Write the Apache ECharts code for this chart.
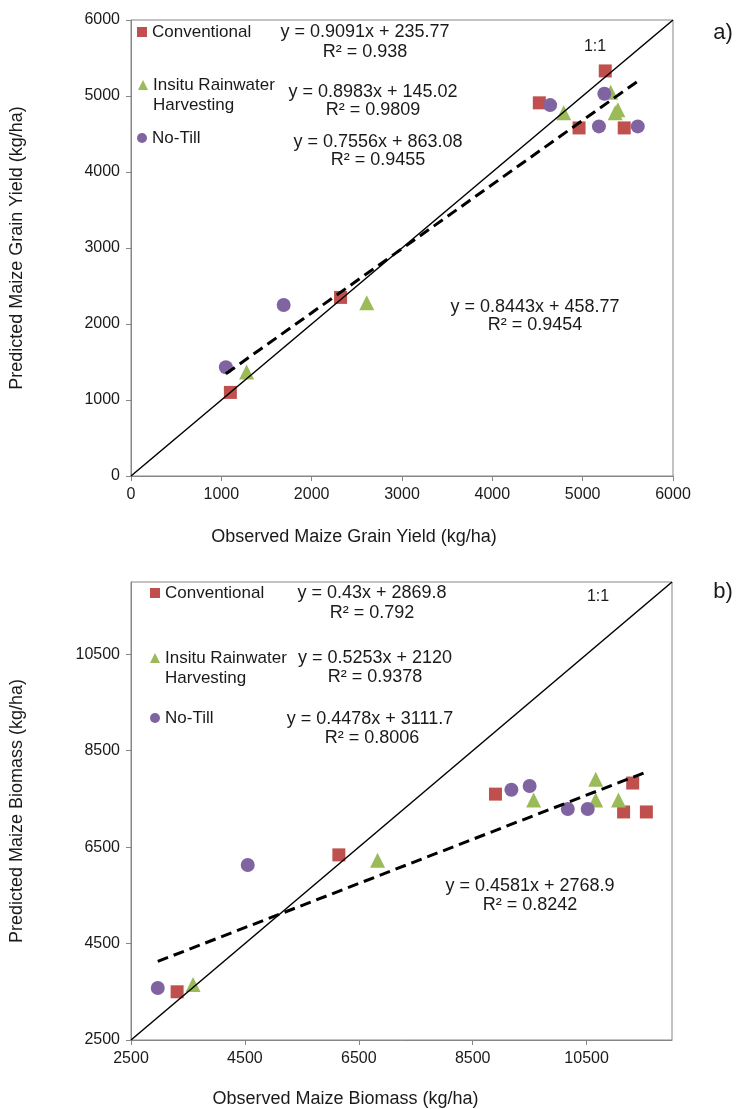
<!DOCTYPE html>
<html><head><meta charset="utf-8">
<script src="https://cdn.jsdelivr.net/npm/echarts@6/dist/echarts.min.js"></script>
<style>html,body{margin:0;padding:0;background:#fff}#c{width:738px;height:1109px}</style>
</head><body><div id="c"></div>
<script>
// ---------- DATA ----------
const seriesNames = ['Conventional', 'Insitu Rainwater Harvesting', 'No-Till'];

// a) grain yield (kg/ha): observed (x) / predicted (y)
const convObsA = [1100, 2320, 4520, 4960, 5250, 5460];
const convPredA = [1100, 2350, 4910, 4580, 5330, 4580];
const irhObsA = [1280, 2610, 4790, 5310, 5360, 5390];
const irhPredA = [1370, 2280, 4780, 5050, 4780, 4820];
const ntObsA = [1050, 1690, 4640, 5180, 5240, 5610];
const ntPredA = [1430, 2250, 4880, 4600, 5030, 4600];
const oneToOneA = [[0, 0], [6000, 6000]];
const trendA = [[1050, 1345], [5610, 5195]];
const ticksA = [0, 1000, 2000, 3000, 4000, 5000, 6000];

// b) biomass (kg/ha)
const convObsB = [3310, 6150, 8900, 11150, 11310, 11550];
const convPredB = [3500, 6340, 7600, 7230, 7830, 7230];
const irhObsB = [3590, 6830, 9570, 10660, 10660, 11060];
const irhPredB = [3650, 6230, 7480, 7910, 7480, 7480];
const ntObsB = [2970, 4550, 9180, 9500, 10170, 10520];
const ntPredB = [3580, 6130, 7690, 7770, 7290, 7290];
const oneToOneB = [[2500, 2500], [12000, 12000]];
const trendB = [[2970, 4130], [11550, 8060]];
const ticksB = [2500, 4500, 6500, 8500, 10500];

const eqA = ['y = 0.9091x + 235.77', 'R² = 0.938', 'y = 0.8983x + 145.02', 'R² = 0.9809',
             'y = 0.7556x + 863.08', 'R² = 0.9455', 'y = 0.8443x + 458.77', 'R² = 0.9454'];
const eqB = ['y = 0.43x + 2869.8', 'R² = 0.792', 'y = 0.5253x + 2120', 'R² = 0.9378',
             'y = 0.4478x + 3111.7', 'R² = 0.8006', 'y = 0.4581x + 2768.9', 'R² = 0.8242'];

// ---------- STYLE ----------
const FONT = '"Liberation Sans", Arial, sans-serif';
const COLORS = ['#C0504D', '#9BBB59', '#8064A2'];
const SYMBOLS = ['rect', 'triangle', 'circle'];
const SIZES = [13, 15, 14];
const AX = '#868686';
const TXT = '#1a1a1a';

const pairs = (xs, ys) => xs.map((x, i) => [x, ys[i]]);

function axis(gi, min, max, ticks, name, gap, shiftPad) {
  return {
    type: 'value', gridIndex: gi, min: min, max: max,
    name: name, nameLocation: 'middle', nameGap: gap,
    nameTextStyle: {fontFamily: FONT, fontSize: 18, color: TXT,
                    padding: shiftPad ? [0, shiftPad, 0, 0] : 0},
    axisLine: {show: true, onZero: false, lineStyle: {color: AX, width: 1}},
    axisTick: {show: true, inside: false, length: 5, customValues: ticks, lineStyle: {color: AX}},
    axisLabel: {fontFamily: FONT, fontSize: 16, color: TXT, margin: 11, customValues: ticks,
                formatter: v => String(v)},
    splitLine: {show: false}
  };
}

function scatterSeries(gi, name, idx, xs, ys) {
  return {
    type: 'scatter', name: name, xAxisIndex: gi, yAxisIndex: gi,
    data: pairs(xs, ys), symbol: SYMBOLS[idx], symbolSize: SIZES[idx],
    itemStyle: {color: COLORS[idx], opacity: 1}, z: 2 + idx * 0.1
  };
}
function lineSeries(gi, pts, dashed) {
  return {
    type: 'line', xAxisIndex: gi, yAxisIndex: gi, data: pts, symbol: 'none', silent: true,
    lineStyle: dashed ? {color: '#000', width: 3, type: [11, 6]} : {color: '#000', width: 1.5},
    z: 5
  };
}

function legendItem(name, idx, left, top, twoLine) {
  return {
    left: left, top: top, orient: 'vertical', padding: 0, itemWidth: 10, itemHeight: 10,
    data: [{name: name, icon: SYMBOLS[idx]}],
    formatter: n => twoLine ? '\nInsitu Rainwater\nHarvesting' : n,
    textStyle: {fontFamily: FONT, fontSize: 17, color: TXT, lineHeight: 20},
    selectedMode: false
  };
}

function txt(x, y, s, size) {
  return {type: 'text', x: x, y: y, silent: true,
    style: {text: s, fontFamily: FONT, fontSize: size || 18, fill: TXT,
            align: 'center', verticalAlign: 'middle', textAlign: 'center', textVerticalAlign: 'middle'}};
}

const option = {
  animation: false,
  backgroundColor: '#fff',
  grid: [
    {left: 129, top: 20, width: 544, height: 456, show: true, borderColor: AX, borderWidth: 1, backgroundColor: 'transparent'},
    {left: 129, top: 582, width: 543, height: 458, show: true, borderColor: AX, borderWidth: 1, backgroundColor: 'transparent'}
  ],
  xAxis: [
    axis(0, 0, 6000, ticksA, 'Observed Maize Grain Yield (kg/ha)', 52, 96),
    axis(1, 2500, 12000, ticksB, 'Observed Maize Biomass (kg/ha)', 50, 112)
  ],
  yAxis: [
    axis(0, 0, 6000, ticksA, 'Predicted Maize Grain Yield (kg/ha)', 105, 0),
    axis(1, 2500, 12000, ticksB, 'Predicted Maize Biomass (kg/ha)', 105, 0)
  ],
  legend: [
    legendItem(seriesNames[0], 0, 137, 22, false),
    legendItem(seriesNames[1], 1, 138, 55, true),
    legendItem(seriesNames[2], 2, 137, 128, false),
    legendItem(seriesNames[0], 0, 150, 583, false),
    legendItem(seriesNames[1], 1, 150, 628, true),
    legendItem(seriesNames[2], 2, 150, 708, false)
  ],
  series: [
    scatterSeries(0, seriesNames[0], 0, convObsA, convPredA),
    scatterSeries(0, seriesNames[1], 1, irhObsA, irhPredA),
    scatterSeries(0, seriesNames[2], 2, ntObsA, ntPredA),
    lineSeries(0, oneToOneA, false),
    lineSeries(0, trendA, true),
    scatterSeries(1, seriesNames[0], 0, convObsB, convPredB),
    scatterSeries(1, seriesNames[1], 1, irhObsB, irhPredB),
    scatterSeries(1, seriesNames[2], 2, ntObsB, ntPredB),
    lineSeries(1, oneToOneB, false),
    lineSeries(1, trendB, true)
  ],
  graphic: [
    txt(365, 32, eqA[0]), txt(365, 52, eqA[1]),
    txt(373, 92, eqA[2]), txt(373, 110, eqA[3]),
    txt(378, 142, eqA[4]), txt(378, 160, eqA[5]),
    txt(535, 307, eqA[6]), txt(535, 325, eqA[7]),
    txt(595, 47, '1:1', 16), txt(723, 33, 'a)', 22),
    txt(372, 593, eqB[0]), txt(372, 613, eqB[1]),
    txt(375, 658, eqB[2]), txt(375, 677, eqB[3]),
    txt(370, 719, eqB[4]), txt(372, 738, eqB[5]),
    txt(530, 886, eqB[6]), txt(530, 905, eqB[7]),
    txt(598, 597, '1:1', 16), txt(723, 592, 'b)', 22)
  ]
};

const chart = echarts.init(document.getElementById('c'), null, {renderer: 'canvas'});
chart.setOption(option);
</script></body></html>
